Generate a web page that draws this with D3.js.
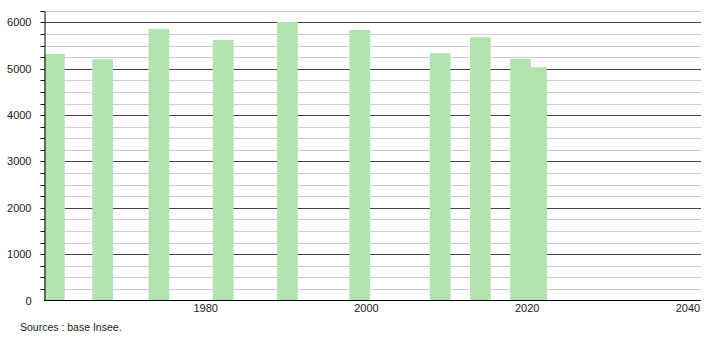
<!DOCTYPE html>
<html>
<head>
<meta charset="utf-8">
<script src="https://cdn.jsdelivr.net/npm/d3@7"></script>
<style>
  body { margin: 0; background: #fff; }
  text { font-family: "Liberation Sans", Arial, sans-serif; fill: #222; }
</style>
</head>
<body>
<svg width="710" height="340"></svg>
<script>
'use strict';

// census years and population
var years = [1961, 1967, 1974, 1982, 1990, 1999, 2009, 2014, 2019, 2021];
var population = [5320, 5206, 5860, 5623, 6011, 5838, 5335, 5681, 5212, 5033];
var yTicks = [0, 1000, 2000, 3000, 4000, 5000, 6000];
var xTicks = [1980, 2000, 2020, 2040];

// plot area
var plotL = 45, plotR = 700, plotT = 10.8, plotB = 300.5;
var svg = d3.select('svg');

var x = d3.scaleLinear().domain([1960, 2041.5]).range([plotL, plotR]);
var y = d3.scaleLinear().domain([0, 6250]).range([plotB, plotT]);

// minor grid every 250
var minor = d3.range(250, 6251, 250).filter(function (v) { return v % 1000 !== 0; });
svg.append('g').selectAll('line').data(minor).enter().append('line')
  .attr('x1', plotL).attr('x2', 701)
  .attr('y1', function (d) { return Math.round(y(d)) + 0.5; })
  .attr('y2', function (d) { return Math.round(y(d)) + 0.5; })
  .attr('stroke', '#cccccc').attr('stroke-width', 1);

// major grid
svg.append('g').selectAll('line').data(yTicks.slice(1)).enter().append('line')
  .attr('x1', plotL).attr('x2', 701)
  .attr('y1', function (d) { return Math.round(y(d)) + 0.5; })
  .attr('y2', function (d) { return Math.round(y(d)) + 0.5; })
  .attr('stroke', '#444').attr('stroke-width', 1);

// bars, drawn last-first so earlier ones sit on top
var data = years.map(function (yr, i) { return { year: yr, value: population[i] }; }).reverse();
svg.append('g').selectAll('rect').data(data).enter().append('rect')
  .attr('x', function (d) { return x(d.year) - 9; })
  .attr('width', 20.7)
  .attr('y', function (d) { return y(d.value); })
  .attr('height', function (d) { return y(0) - y(d.value); })
  .attr('fill', '#b1e4b1');

// y axis
var yAxis = d3.axisLeft(y).tickValues(yTicks).tickFormat(d3.format('d')).tickSize(0).tickPadding(13);
var gy = svg.append('g').attr('transform', 'translate(44.5,0)').call(yAxis);
gy.select('.domain').attr('stroke', '#000');
gy.selectAll('text').style('font-size', '11px').attr('fill', '#222');
gy.selectAll('.minor').data(d3.range(250, 6251, 250)).enter().append('line')
  .attr('class', 'minor')
  .attr('x1', -4).attr('x2', 0)
  .attr('y1', function (d) { return Math.round(y(d)) + 0.5; })
  .attr('y2', function (d) { return Math.round(y(d)) + 0.5; })
  .attr('stroke', '#000');

// x axis
svg.append('line')
  .attr('x1', 44).attr('x2', 701)
  .attr('y1', 300.5).attr('y2', 300.5)
  .attr('stroke', '#000').attr('stroke-width', 1.2);
svg.append('g').selectAll('text').data(xTicks).enter().append('text')
  .attr('x', function (d) { return x(d); })
  .attr('y', 312)
  .attr('text-anchor', 'middle')
  .style('font-size', '11px')
  .text(function (d) { return d; });

svg.append('text')
  .attr('x', 20).attr('y', 331)
  .style('font-size', '10.5px')
  .text('Sources : base Insee.');
</script>
</body>
</html>
